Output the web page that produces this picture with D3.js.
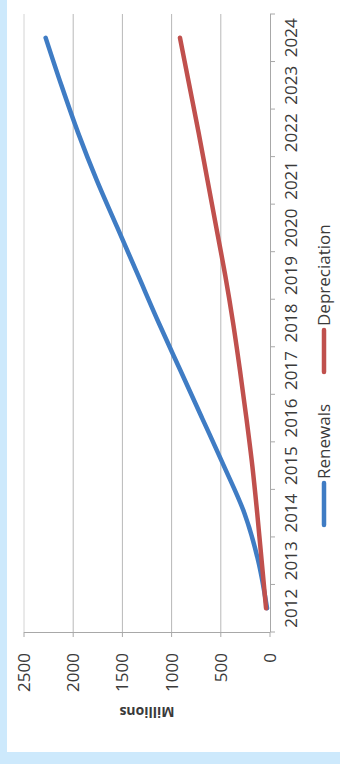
<!DOCTYPE html>
<html>
<head>
<meta charset="utf-8">
<script src="https://cdn.jsdelivr.net/npm/d3@7"></script>
<style>
  html, body { margin: 0; padding: 0; background: #cde9fc; }
  svg { display: block; }
  text { font-family: "Open Sans", "DejaVu Sans", sans-serif; fill: #3a3a3a; }
</style>
</head>
<body>
<svg id="chart" width="340" height="764"></svg>
<script>
// Annual amounts, in millions
const years = ["2012","2013","2014","2015","2016","2017","2018","2019","2020","2021","2022","2023","2024"];
const renewals = [30, 120, 260, 470, 690, 910, 1130, 1340, 1550, 1760, 1950, 2120, 2280];
const depreciation = [40, 85, 130, 180, 240, 305, 375, 455, 545, 635, 725, 820, 915];
const valueTicks = [0, 500, 1000, 1500, 2000, 2500];
const seriesNames = ["Renewals", "Depreciation"];
const seriesColors = ["#3f7cc4", "#c0504d"];

const svg = d3.select("#chart");

// white chart panel
svg.append("rect").attr("x", 7).attr("y", 0).attr("width", 333).attr("height", 752).attr("fill", "#ffffff");

// The chart is laid out sideways: years run up the right edge, values run right-to-left.
const y = d3.scaleBand().domain(years).range([632, 14]).paddingInner(0).paddingOuter(0);
const x = d3.scaleLinear().domain([0, 2500]).range([270, 24]);
const yc = d => y(d) + y.bandwidth() / 2;

// gridlines
svg.append("g").selectAll("line").data(valueTicks.filter(v => v > 0)).join("line")
  .attr("x1", d => x(d)).attr("x2", d => x(d))
  .attr("y1", 14).attr("y2", 632)
  .attr("stroke", d => d === 2500 ? "#d4d4d4" : "#b8b8b8").attr("stroke-width", 1);

// value axis line and ticks
svg.append("line").attr("x1", x(2500)).attr("x2", x(0)).attr("y1", 632.5).attr("y2", 632.5)
  .attr("stroke", "#a8a8a8");
svg.append("g").selectAll("line").data(valueTicks).join("line")
  .attr("x1", d => x(d)).attr("x2", d => x(d)).attr("y1", 632).attr("y2", 637)
  .attr("stroke", "#a8a8a8");

// category axis line and ticks between years
svg.append("line").attr("x1", 270.5).attr("x2", 270.5).attr("y1", 14).attr("y2", 632)
  .attr("stroke", "#a8a8a8");
const edges = years.map(d => y(d)).concat([y(years[0]) + y.bandwidth()]);
svg.append("g").selectAll("line").data(edges).join("line")
  .attr("x1", 270).attr("x2", 275).attr("y1", d => d).attr("y2", d => d)
  .attr("stroke", "#a8a8a8");

// year labels, reading upward
svg.append("g").selectAll("text").data(years).join("text")
  .attr("transform", d => `translate(297,${yc(d)}) rotate(-90)`)
  .attr("text-anchor", "middle")
  .attr("font-size", 17)
  .text(d => d);

// value labels
svg.append("g").selectAll("text").data(valueTicks).join("text")
  .attr("transform", d => `translate(${x(d) + 6},653) rotate(-90)`)
  .attr("text-anchor", "end")
  .attr("font-size", 17)
  .text(d => d);

// axis title
svg.append("text")
  .attr("transform", `translate(${(x(0) + x(2500)) / 2},707) rotate(180)`)
  .attr("text-anchor", "middle")
  .attr("font-size", 14)
  .attr("font-weight", "bold")
  .text("Millions");

// series lines
const line = d3.line()
  .x(d => x(d[1]))
  .y(d => yc(d[0]))
  .curve(d3.curveMonotoneY);
[renewals, depreciation].forEach((vals, i) => {
  svg.append("path")
    .datum(years.map((yr, j) => [yr, vals[j]]))
    .attr("d", line)
    .attr("fill", "none")
    .attr("stroke", seriesColors[i])
    .attr("stroke-width", 4.5)
    .attr("stroke-linecap", "round")
    .attr("stroke-linejoin", "round");
});

// legend, laid along the right edge
const legendPos = [525, 372];
seriesNames.forEach((name, i) => {
  const g = svg.append("g");
  g.append("line")
    .attr("x1", 324).attr("x2", 324)
    .attr("y1", legendPos[i]).attr("y2", legendPos[i] - 42)
    .attr("stroke", seriesColors[i]).attr("stroke-width", 4.5)
    .attr("stroke-linecap", "round");
  g.append("text")
    .attr("transform", `translate(330,${legendPos[i] - 46}) rotate(-90)`)
    .attr("text-anchor", "start")
    .attr("font-size", 17)
    .text(name);
});
</script>
</body>
</html>
